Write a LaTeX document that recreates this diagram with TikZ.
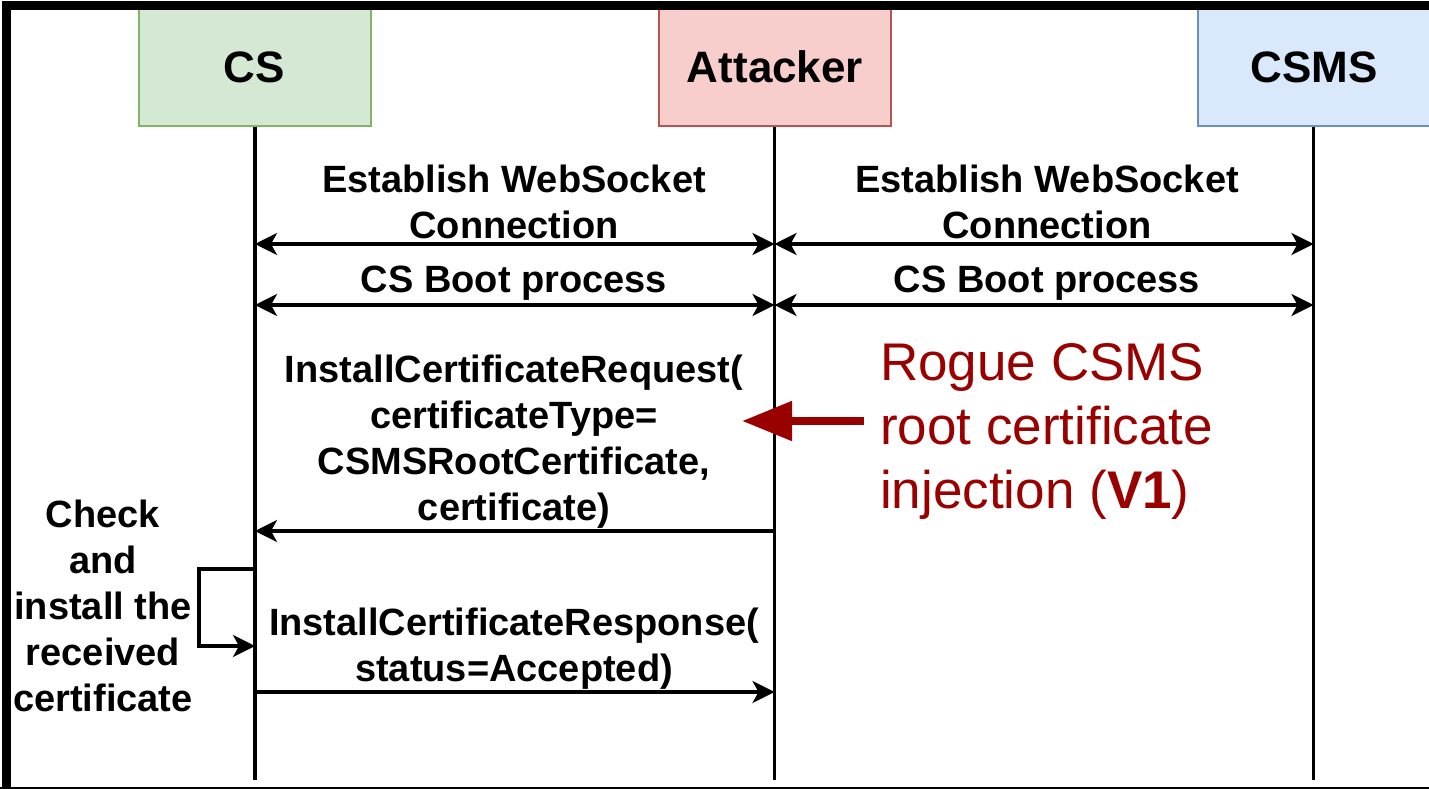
\documentclass[tikz,border=0pt]{standalone}
\usepackage{fontspec}
\setmainfont{Liberation Sans}
\usetikzlibrary{arrows.meta}
\definecolor{csfill}{HTML}{D5E8D4}
\definecolor{csdraw}{HTML}{82B366}
\definecolor{atfill}{HTML}{F8CECC}
\definecolor{atdraw}{HTML}{B85450}
\definecolor{msfill}{HTML}{DAE8FC}
\definecolor{msdraw}{HTML}{6C8EBF}
\definecolor{alert}{HTML}{990000}
\tikzset{
  actor/.style={draw=#1, line width=2pt, minimum width=232pt, minimum height=118pt,
    inner sep=0pt, font=\fontsize{44}{52}\selectfont\bfseries},
  lifeline/.style={line width=3.4pt, black},
  msg/.style={line width=3.4pt, -{Stealth[length=22pt,width=22pt,inset=6pt]}},
  bimsg/.style={line width=3.4pt, {Stealth[length=22pt,width=22pt,inset=6pt]}-{Stealth[length=22pt,width=22pt,inset=6pt]}},
  lbl/.style={align=center, inner sep=0pt, font=\fontsize{38}{46}\selectfont\bfseries},
  note/.style={align=left, inner sep=0pt, text=alert, font=\fontsize{53}{64}\selectfont},
}
\begin{document}
\begin{tikzpicture}[x=1pt,y=-1pt]
\useasboundingbox (0,0) rectangle (1429,789);

% participants
\node[actor=csdraw, fill=csfill] (cs) at (254.5,67) {CS};
\node[actor=atdraw, fill=atfill] (at) at (775,67) {Attacker};
\node[actor=msdraw, fill=msfill] (ms) at (1314,67) {CSMS};

% lifeline ends
\coordinate (csend) at (255,780);
\coordinate (atend) at (774.5,780);
\coordinate (msend) at (1313.5,780);
\draw[lifeline] (cs.south -| csend) -- (csend);
\draw[lifeline] (at.south -| atend) -- (atend);
\draw[lifeline] (ms.south -| msend) -- (msend);

% message anchor points on the lifelines
\coordinate (cs1) at (255,244);   \coordinate (at1) at (774.5,244);   \coordinate (ms1) at (1313.5,244);
\coordinate (cs2) at (255,305);   \coordinate (at2) at (774.5,305);   \coordinate (ms2) at (1313.5,305);
\coordinate (cs3) at (255,531);   \coordinate (at3) at (774.5,531);
\coordinate (cs4) at (255,569);   \coordinate (cs5) at (255,646);
\coordinate (loopA) at (199,569); \coordinate (loopB) at (199,646);
\coordinate (cs6) at (255,692);   \coordinate (at6) at (774.5,692);

% connection setup
\draw[bimsg] (at1) -- (cs1);
\draw[bimsg] (at1) -- (ms1);
\draw[bimsg] (at2) -- (cs2);
\draw[bimsg] (at2) -- (ms2);
\node[lbl] (l1) at (514,202) {Establish WebSocket\\Connection};
\node[lbl] (l2) at (1047,202) {Establish WebSocket\\Connection};
\node[lbl] (l3) at (514,283) {CS Boot process};
\node[lbl] (l4) at (1047,283) {CS Boot process};

% certificate installation
\draw[msg] (at3) -- (cs3);
\node[lbl] (l5) at (514,442) {InstallCertificateRequest(\\certificateType=\\CSMSRootCertificate,\\certificate)};
\draw[msg] (cs4) -- (loopA) -- (loopB) -- (cs5);
\node[lbl] (l6) at (103,606) {Check\\and\\install the\\received\\certificate};
\draw[msg] (cs6) -- (at6);
\node[lbl] (l7) at (514,649) {InstallCertificateResponse(\\status=Accepted)};

% vulnerability annotation
\node[note, anchor=west] (v1) at (880,431) {Rogue CSMS\\root certificate\\injection (\textbf{V1})};
\coordinate (vtip) at (742,421);
\draw[alert, line width=8pt, -{Triangle[length=50pt,width=38pt]}] (864,421) -- (vtip);

% outer frame
\draw[line width=9pt, line cap=rect] (6.5,800) -- (6.5,6) -- (1440,6);
\draw[line width=9pt] (0,791) -- (1440,791);
\end{tikzpicture}
\end{document}
